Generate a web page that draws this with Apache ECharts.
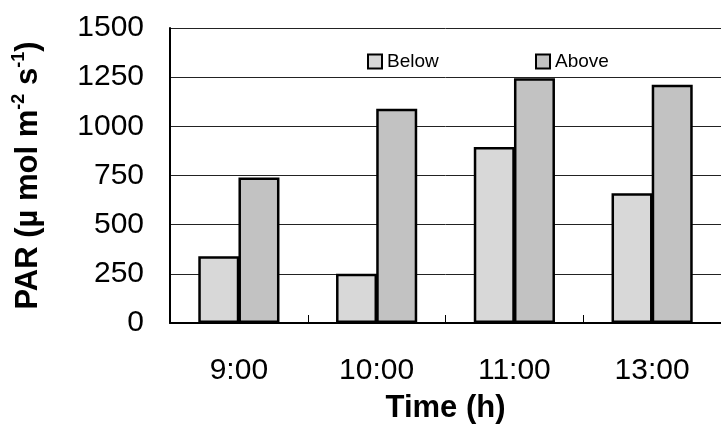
<!DOCTYPE html>
<html><head><meta charset="utf-8">
<script src="https://cdn.jsdelivr.net/npm/echarts@6/dist/echarts.min.js"></script>
<style>html,body{margin:0;padding:0;background:#fff}#c{width:721px;height:429px}</style>
</head><body><div id="c"></div>
<script>
const categories = ['9:00', '10:00', '11:00', '13:00'];
const belowValues = [340, 250, 895, 660];
const aboveValues = [740, 1090, 1245, 1212];
const yMin = 0, yMax = 1500, yStep = 250;

const FF = "'Liberation Sans', Arial, sans-serif";
const chart = echarts.init(document.getElementById('c'), null, {renderer: 'canvas'});
chart.setOption({
  animation: false,
  backgroundColor: '#fff',
  textStyle: {fontFamily: FF},
  grid: {left: 170, right: -12, top: 28, bottom: 103.5, containLabel: false},
  legend: [
    {data: ['Below'], left: 362, top: 47, itemWidth: 14, itemHeight: 14, itemGap: 0, icon: 'rect',
     itemStyle: {borderColor: '#000', borderWidth: 2},
     textStyle: {fontSize: 19, color: '#000', fontFamily: FF}},
    {data: ['Above'], left: 530, top: 47, itemWidth: 14, itemHeight: 14, itemGap: 0, icon: 'rect',
     itemStyle: {borderColor: '#000', borderWidth: 2},
     textStyle: {fontSize: 19, color: '#000', fontFamily: FF}}
  ],
  xAxis: {
    type: 'category', data: categories,
    axisLine: {lineStyle: {color: '#000', width: 2}},
    axisTick: {show: true, inside: true, length: 8, lineStyle: {color: '#000', width: 1}},
    axisLabel: {fontSize: 30, color: '#000', margin: 33, fontFamily: FF},
    name: 'Time (h)', nameLocation: 'middle', nameGap: 70,
    nameTextStyle: {fontSize: 31, fontWeight: 'bold', color: '#000', fontFamily: FF}
  },
  yAxis: {
    type: 'value', min: yMin, max: yMax, interval: yStep,
    axisLine: {show: true, lineStyle: {color: '#000', width: 2}},
    axisTick: {show: false},
    splitLine: {show: true, lineStyle: {color: '#222', width: 1}},
    axisLabel: {fontSize: 30, color: '#000', margin: 26, fontFamily: FF,
                formatter: function (v) { return String(v); }},
    name: '{b|PAR (µ mol m}{s|-2}{b| s}{s|-1}{b|)}',
    nameLocation: 'middle', nameGap: 126, nameRotate: 90,
    nameTextStyle: {
      rich: {
        b: {fontSize: 31, fontWeight: 'bold', color: '#000', fontFamily: FF, lineHeight: 34, verticalAlign: 'bottom'},
        s: {fontSize: 18, fontWeight: 'bold', color: '#000', fontFamily: FF, lineHeight: 18, verticalAlign: 'top'}
      }
    }
  },
  series: [
    {name: 'Below', type: 'bar', data: belowValues, barWidth: 41, barGap: '-2%',
     itemStyle: {color: '#d8d8d8', borderColor: '#000', borderWidth: 2.5, borderRadius: 0}},
    {name: 'Above', type: 'bar', data: aboveValues, barWidth: 41, barGap: '-2%',
     itemStyle: {color: '#c2c2c2', borderColor: '#000', borderWidth: 2.5, borderRadius: 0}}
  ]
});
</script></body></html>
